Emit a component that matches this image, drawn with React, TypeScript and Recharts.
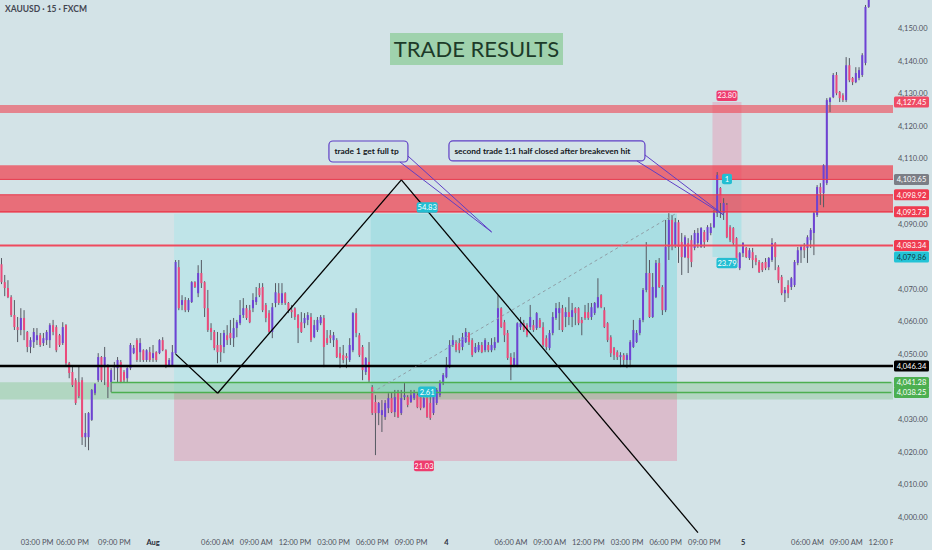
import React from 'react'
import {
  ComposedChart,
  Bar,
  XAxis,
  YAxis,
  ReferenceArea,
  ReferenceLine,
  ReferenceDot,
} from 'recharts'

type Ohlc = [number, number, number, number]

// XAUUSD 15m candles as [open, high, low, close]
const jul31: Ohlc[] = [
  [4077.6, 4079.5, 4071.5, 4072.1], [4072.1, 4074.3, 4067.8, 4070.3], [4070.3, 4072.7, 4067.2, 4067.5],
  [4067.5, 4068.1, 4061.4, 4062.0], [4062.0, 4066.6, 4057.4, 4058.3], [4058.3, 4061.4, 4053.7, 4057.4],
  [4057.4, 4064.1, 4055.8, 4061.1], [4061.1, 4063.5, 4054.3, 4057.4], [4056.8, 4057.1, 4050.6, 4052.2],
  [4052.2, 4055.2, 4050.3, 4054.3], [4053.7, 4058.0, 4051.9, 4056.8], [4054.3, 4058.0, 4052.8, 4055.8],
  [4055.8, 4056.5, 4052.2, 4052.8], [4053.4, 4056.5, 4052.5, 4054.9], [4054.3, 4057.4, 4052.8, 4056.8],
  [4054.3, 4059.5, 4051.9, 4058.9], [4058.9, 4060.5, 4055.8, 4056.8], [4058.3, 4058.9, 4050.6, 4051.2],
  [4055.8, 4056.2, 4052.2, 4052.8], [4053.4, 4059.8, 4052.8, 4058.3], [4058.9, 4059.2, 4046.6, 4047.2],
  [4047.2, 4047.6, 4042.6, 4044.2], [4044.5, 4046.6, 4039.9, 4040.5], [4042.0, 4042.6, 4034.4, 4035.0],
  [4041.4, 4046.6, 4036.5, 4037.1], [4042.0, 4042.9, 4022.1, 4024.5], [4024.5, 4031.9, 4021.5, 4025.8],
  [4024.5, 4032.2, 4020.5, 4031.9], [4029.8, 4039.3, 4029.5, 4039.0], [4038.0, 4041.1, 4037.4, 4040.8],
  [4042.0, 4050.3, 4041.4, 4049.1], [4049.1, 4049.4, 4041.4, 4042.0], [4046.0, 4052.2, 4040.5, 4049.1],
  [4046.6, 4046.9, 4036.5, 4039.9], [4041.4, 4045.7, 4038.3, 4045.1], [4046.0, 4047.6, 4042.0, 4046.6],
  [4045.7, 4049.1, 4041.4, 4048.2], [4047.6, 4048.2, 4041.1, 4041.4], [4044.5, 4045.1, 4041.4, 4042.0],
  [4042.6, 4046.0, 4041.4, 4045.7], [4045.7, 4053.4, 4045.1, 4052.8], [4050.3, 4052.8, 4050.0, 4051.9],
  [4054.3, 4054.9, 4047.6, 4048.2], [4050.6, 4054.9, 4047.6, 4053.4], [4051.2, 4051.5, 4047.6, 4048.2],
  [4048.2, 4051.5, 4047.6, 4051.2], [4050.6, 4052.2, 4047.6, 4048.2],
]

const aug1: Ohlc[] = [
  [4048.8, 4052.8, 4047.6, 4050.3], [4050.6, 4050.9, 4047.6, 4048.2], [4050.3, 4054.6, 4050.0, 4054.3],
  [4054.3, 4055.2, 4050.9, 4051.2], [4051.2, 4051.5, 4045.7, 4046.6], [4046.6, 4048.8, 4046.3, 4048.2],
  [4046.6, 4052.8, 4046.3, 4050.6], [4050.3, 4078.9, 4050.0, 4078.3], [4076.7, 4078.9, 4063.5, 4064.1],
  [4065.1, 4068.1, 4063.5, 4066.6], [4066.6, 4067.5, 4062.9, 4063.5], [4063.5, 4067.2, 4062.9, 4066.6],
  [4066.0, 4072.4, 4065.7, 4072.1], [4072.1, 4072.4, 4070.3, 4070.6], [4068.7, 4077.3, 4067.5, 4074.9],
  [4074.9, 4078.9, 4070.3, 4071.8], [4072.1, 4072.4, 4061.4, 4064.1], [4064.1, 4069.7, 4056.8, 4057.4],
  [4058.0, 4059.5, 4054.3, 4056.8], [4056.8, 4057.4, 4051.2, 4051.9], [4052.8, 4056.8, 4047.2, 4050.6],
  [4052.8, 4056.5, 4047.6, 4050.6], [4052.2, 4057.4, 4050.3, 4056.5], [4055.8, 4058.9, 4052.8, 4054.3],
  [4056.5, 4060.5, 4052.8, 4054.9], [4054.9, 4061.1, 4052.2, 4058.0], [4058.0, 4060.5, 4055.2, 4059.8],
  [4059.5, 4066.6, 4058.9, 4062.0], [4062.0, 4067.2, 4061.1, 4064.1], [4064.1, 4065.1, 4060.5, 4061.1],
  [4063.5, 4065.1, 4059.5, 4059.8], [4064.1, 4068.7, 4062.9, 4066.6], [4066.0, 4070.6, 4065.1, 4067.5],
  [4070.3, 4071.8, 4067.5, 4068.1], [4070.6, 4071.8, 4062.9, 4063.5], [4065.1, 4065.7, 4059.8, 4061.1],
  [4062.6, 4063.5, 4056.5, 4056.8], [4056.8, 4065.7, 4054.9, 4064.4], [4065.7, 4071.8, 4064.4, 4069.0],
  [4068.7, 4071.8, 4065.1, 4065.7], [4065.7, 4071.8, 4065.1, 4068.7], [4068.7, 4069.0, 4065.1, 4065.7],
  [4065.7, 4066.0, 4062.6, 4063.5], [4063.5, 4065.1, 4061.1, 4062.9], [4064.1, 4064.4, 4060.5, 4061.4],
  [4062.0, 4062.3, 4053.4, 4058.0], [4059.8, 4062.9, 4056.5, 4056.8], [4059.5, 4062.6, 4058.0, 4061.1],
  [4060.5, 4062.9, 4058.9, 4062.0], [4061.4, 4062.6, 4053.7, 4054.3], [4055.2, 4060.5, 4054.9, 4058.9],
  [4057.4, 4061.4, 4056.8, 4060.5], [4059.5, 4062.0, 4058.9, 4061.4], [4061.1, 4062.0, 4046.0, 4052.2],
  [4054.9, 4057.4, 4052.8, 4053.4], [4055.8, 4057.4, 4053.4, 4054.9], [4054.3, 4056.8, 4052.2, 4055.8],
  [4054.3, 4054.9, 4048.8, 4049.1], [4050.3, 4052.2, 4045.7, 4048.8], [4049.7, 4052.8, 4047.2, 4048.2],
  [4049.4, 4050.3, 4045.7, 4048.8], [4048.2, 4054.9, 4047.6, 4052.8], [4051.2, 4062.9, 4050.6, 4062.6],
  [4062.6, 4064.1, 4055.2, 4056.5], [4055.8, 4056.5, 4049.1, 4049.7], [4052.2, 4052.8, 4042.0, 4045.1],
  [4044.5, 4049.1, 4043.6, 4048.8], [4047.6, 4053.7, 4041.4, 4042.0], [4039.9, 4040.5, 4031.3, 4031.9],
  [4035.3, 4037.4, 4019.0, 4031.9], [4031.9, 4035.3, 4028.2, 4035.0], [4031.3, 4035.9, 4026.1, 4032.8],
  [4030.7, 4035.9, 4029.8, 4035.0], [4033.4, 4038.0, 4031.9, 4036.5], [4036.5, 4038.3, 4031.9, 4032.2],
  [4032.2, 4039.0, 4030.7, 4036.8], [4038.3, 4039.0, 4030.4, 4030.7], [4031.9, 4039.0, 4031.3, 4036.5],
  [4036.8, 4041.1, 4035.9, 4037.4], [4036.8, 4037.4, 4033.7, 4034.4], [4035.3, 4039.0, 4035.0, 4037.4],
  [4036.5, 4039.0, 4035.9, 4038.3], [4037.4, 4038.0, 4033.4, 4033.7], [4036.8, 4037.4, 4032.8, 4033.4],
  [4033.7, 4036.8, 4033.4, 4036.5], [4036.5, 4036.8, 4030.4, 4030.7], [4035.0, 4037.4, 4029.8, 4030.4],
  [4031.9, 4039.9, 4031.3, 4039.6], [4035.0, 4039.6, 4034.4, 4039.0], [4037.4, 4042.0, 4036.8, 4041.4],
  [4041.1, 4044.2, 4040.5, 4043.6],
]

const aug4: Ohlc[] = [
  [4042.9, 4049.1, 4042.6, 4046.0], [4046.0, 4054.3, 4045.7, 4052.8], [4052.8, 4055.8, 4052.2, 4054.3],
  [4053.7, 4054.3, 4050.6, 4051.2], [4053.4, 4054.9, 4050.3, 4051.2], [4052.2, 4056.5, 4051.2, 4055.2],
  [4053.7, 4058.0, 4053.4, 4056.8], [4056.5, 4056.8, 4052.8, 4053.7], [4054.3, 4054.9, 4049.1, 4049.7],
  [4050.6, 4053.4, 4050.3, 4052.2], [4051.2, 4053.7, 4050.6, 4052.8], [4052.8, 4053.7, 4050.3, 4050.6],
  [4051.2, 4054.9, 4050.6, 4054.3], [4052.8, 4053.7, 4050.6, 4051.2], [4051.2, 4054.9, 4050.6, 4052.8],
  [4051.9, 4055.2, 4051.2, 4053.7], [4053.7, 4068.1, 4053.4, 4064.1], [4064.1, 4064.4, 4058.0, 4058.3],
  [4059.8, 4060.5, 4053.7, 4055.8], [4056.5, 4057.4, 4048.2, 4048.8], [4049.1, 4050.3, 4042.0, 4046.0],
  [4046.6, 4050.6, 4046.0, 4048.8], [4046.6, 4059.8, 4046.0, 4059.5], [4058.3, 4061.4, 4057.4, 4059.5],
  [4059.5, 4060.5, 4056.8, 4057.4], [4058.9, 4059.5, 4055.2, 4055.8], [4058.3, 4065.1, 4057.4, 4061.4],
  [4058.9, 4060.5, 4056.8, 4057.4], [4058.0, 4062.9, 4057.4, 4062.6], [4060.5, 4061.1, 4058.0, 4058.3],
  [4058.3, 4059.8, 4052.2, 4052.8], [4054.9, 4055.8, 4051.2, 4052.2], [4051.9, 4057.4, 4051.2, 4056.5],
  [4056.5, 4062.9, 4055.8, 4061.4], [4061.1, 4065.7, 4060.5, 4064.1], [4062.6, 4066.0, 4057.4, 4064.1],
  [4064.1, 4065.1, 4056.8, 4057.4], [4061.4, 4064.4, 4058.3, 4062.9], [4062.9, 4067.5, 4058.9, 4061.4],
  [4061.4, 4065.7, 4058.3, 4063.5], [4064.1, 4064.4, 4058.9, 4062.6], [4064.1, 4064.4, 4058.9, 4059.5],
  [4060.5, 4061.4, 4055.8, 4059.5], [4062.9, 4065.1, 4060.5, 4061.1], [4062.9, 4065.7, 4060.5, 4061.1],
  [4061.4, 4065.7, 4060.5, 4064.4], [4062.6, 4066.0, 4062.0, 4065.7], [4064.4, 4073.3, 4064.1, 4067.5],
  [4068.1, 4068.4, 4064.1, 4064.4], [4063.5, 4064.4, 4058.0, 4058.3], [4059.5, 4059.8, 4053.7, 4054.3],
  [4055.2, 4055.8, 4049.1, 4050.3], [4051.9, 4052.2, 4048.2, 4049.7], [4050.6, 4051.2, 4048.2, 4049.1],
  [4049.1, 4050.6, 4046.0, 4049.7], [4049.7, 4050.3, 4046.6, 4048.2], [4048.2, 4050.3, 4045.7, 4049.7],
  [4048.2, 4054.3, 4046.0, 4053.7], [4052.2, 4060.5, 4051.9, 4057.4], [4053.7, 4057.4, 4053.4, 4056.5],
  [4056.5, 4061.1, 4055.8, 4060.5], [4060.5, 4070.3, 4059.8, 4069.7], [4069.7, 4084.4, 4069.0, 4074.9],
  [4074.9, 4078.9, 4061.1, 4061.4], [4061.4, 4074.9, 4061.1, 4070.6], [4067.5, 4078.9, 4067.2, 4078.0],
  [4078.0, 4079.5, 4070.3, 4070.6], [4070.6, 4071.2, 4062.0, 4063.5], [4063.5, 4091.2, 4062.9, 4082.9],
  [4082.9, 4093.3, 4078.9, 4091.2], [4091.2, 4092.7, 4081.9, 4083.5], [4083.5, 4091.8, 4082.6, 4090.5],
  [4090.5, 4091.2, 4078.0, 4082.9], [4084.4, 4087.2, 4074.3, 4079.8], [4079.8, 4086.5, 4079.5, 4085.9],
  [4084.1, 4085.6, 4074.9, 4079.5], [4085.0, 4086.5, 4076.7, 4078.3], [4082.6, 4088.1, 4081.9, 4087.2],
  [4084.1, 4088.7, 4082.6, 4087.2], [4082.9, 4089.0, 4082.6, 4088.7], [4087.5, 4088.1, 4082.6, 4084.4],
  [4085.0, 4089.6, 4084.4, 4089.0], [4087.2, 4090.2, 4086.5, 4089.0], [4089.0, 4094.2, 4088.7, 4093.3],
  [4093.3, 4105.9, 4092.1, 4105.0], [4101.0, 4101.3, 4091.8, 4096.4], [4093.3, 4097.9, 4091.2, 4096.4],
  [4095.8, 4096.4, 4085.6, 4085.9], [4089.0, 4089.6, 4084.4, 4085.0], [4088.7, 4089.0, 4083.5, 4084.1],
  [4085.6, 4085.9, 4076.7, 4078.0], [4076.4, 4081.3, 4075.8, 4081.0],
]

const aug5: Ohlc[] = [
  [4081.0, 4084.4, 4079.8, 4084.1], [4082.6, 4082.9, 4079.5, 4079.8], [4079.5, 4082.6, 4078.9, 4081.9],
  [4081.3, 4082.6, 4076.4, 4078.9], [4079.5, 4080.4, 4077.3, 4078.3], [4078.3, 4078.9, 4074.9, 4075.2],
  [4078.0, 4078.3, 4075.2, 4075.8], [4078.3, 4079.5, 4075.8, 4076.4], [4076.7, 4079.8, 4075.8, 4079.5],
  [4078.9, 4085.6, 4078.3, 4084.1], [4084.1, 4084.4, 4075.8, 4079.8], [4076.7, 4077.3, 4071.8, 4072.7],
  [4073.7, 4074.3, 4068.1, 4068.7], [4068.7, 4070.6, 4066.0, 4069.7], [4071.2, 4072.7, 4067.2, 4068.7],
  [4070.6, 4073.7, 4069.7, 4073.3], [4071.2, 4078.9, 4070.6, 4078.3], [4078.0, 4082.9, 4077.3, 4081.9],
  [4081.9, 4083.5, 4078.0, 4082.9], [4082.9, 4084.1, 4079.5, 4081.9], [4082.6, 4086.5, 4078.0, 4085.9],
  [4085.0, 4088.7, 4082.6, 4088.1], [4087.2, 4093.6, 4080.4, 4093.3], [4092.7, 4101.9, 4092.1, 4101.3],
  [4101.3, 4102.5, 4095.8, 4099.4], [4099.4, 4108.3, 4095.1, 4108.0], [4102.5, 4128.6, 4101.9, 4128.0],
  [4127.4, 4128.9, 4124.3, 4128.6], [4128.9, 4136.3, 4128.6, 4135.7], [4135.7, 4136.6, 4129.5, 4130.1],
  [4130.5, 4130.8, 4127.4, 4128.6], [4129.5, 4130.1, 4127.4, 4128.0], [4128.0, 4141.2, 4127.4, 4138.7],
  [4138.7, 4140.9, 4133.5, 4134.1], [4134.8, 4135.1, 4132.6, 4133.5], [4133.5, 4138.1, 4133.2, 4136.3],
  [4134.8, 4138.1, 4134.1, 4137.2], [4135.7, 4142.4, 4135.1, 4141.8], [4139.4, 4157.2, 4138.7, 4156.6],
  [4156.6, 4161.8, 4156.3, 4161.2],
]

// free slots to the right of the last candle
const emptySlots = 7

const timeTickIndex = [11, 22, 35, 47, 67, 79, 91, 103, 115, 127, 138, 158, 170, 182, 194, 206, 218, 230, 250, 262, 274]
const timeTickLabels = [
  '03:00 PM', '06:00 PM', '09:00 PM', 'Aug', '06:00 AM', '09:00 AM', '12:00 PM', '03:00 PM', '06:00 PM',
  '09:00 PM', '4', '06:00 AM', '09:00 AM', '12:00 PM', '03:00 PM', '06:00 PM', '09:00 PM', '5', '06:00 AM',
  '09:00 AM', '12:00 PM',
]

const priceTicks = [4000, 4010, 4020, 4030, 4050, 4060, 4070, 4090, 4110, 4120, 4130, 4140, 4150]
const priceDomain: [number, number] = [3995.08, 4158.73]

// levels drawn on the chart
const upperZone = [4124.0, 4126.5]
const middleZone = [4103.65, 4108.0]
const lowerZone = [4093.4, 4098.92]
const greenZone = [4036.1, 4041.4]
const stopLevel = 4127.45
const shortEntry = 4103.65
const zoneTop = 4098.92
const zoneBottom = 4093.73
const redLevel = 4083.34
const shortTarget = 4079.86
const blackLevel = 4046.34
const greenTop = 4041.28
const greenBottom = 4038.25

// long position tool: entry, stop, target and bar span
const longEntry = 4038.25
const longStop = 4017.22
const longTarget = 4093.08
const longStart = 54
const longFill = 115
const longEnd = 209

// short position tool
const shortStart = 221
const shortEnd = 229

// hand drawn zigzag: [bar, price]
const zigzag: [number, number][] = [[54, 4050.0], [67, 4038.0], [124, 4103.5], [216, 3995.2]]

const candles = [...jul31, ...aug1, ...aug4, ...aug5]
const lastSlot = String(candles.length + emptySlots - 1)

const data = [
  ...candles.map(([open, high, low, close], i) => ({ t: String(i), open, high, low, close })),
  ...Array.from({ length: emptySlots }, (_, k) => ({
    t: String(candles.length + k),
    open: null,
    high: null,
    low: null,
    close: null,
  })),
]

const font = 'Lato, "Open Sans", sans-serif'
const tickLabelByIndex = new Map(timeTickIndex.map((i, k) => [String(i), timeTickLabels[k]]))
const fmtPrice = (v: number) =>
  v.toLocaleString('en-US', { minimumFractionDigits: 2, maximumFractionDigits: 2 })

function Candle(props: any) {
  const { x, y, width, height, payload } = props
  if (!payload || payload.open == null || y == null || isNaN(y)) return null
  const top = Math.min(y, y + height)
  const bottom = Math.max(y, y + height)
  const range = payload.high - payload.low
  const k = range > 0 ? (bottom - top) / range : 0
  const yOf = (v: number) => top + (payload.high - v) * k
  const cx = x + width / 2
  const up = payload.close >= payload.open
  const bTop = yOf(Math.max(payload.open, payload.close))
  const bBot = yOf(Math.min(payload.open, payload.close))
  return (
    <g>
      <line x1={cx} x2={cx} y1={top} y2={bottom} stroke="#555962" strokeWidth={1} />
      <rect
        x={cx - 1}
        y={bTop}
        width={2}
        height={Math.max(1, bBot - bTop)}
        fill={up ? '#6e42d4' : '#ec4a7b'}
      />
    </g>
  )
}

function TimeTick(props: any) {
  const { x, payload } = props
  const label = tickLabelByIndex.get(String(payload.value)) ?? ''
  const strong = label === 'Aug' || /^\d+$/.test(label)
  return (
    <svg x={0} y={533} width={893} height={17} overflow="hidden">
      <text
        x={x}
        y={11.5}
        textAnchor="middle"
        fontSize={7.5}
        fontFamily={font}
        fontWeight={strong ? 700 : 400}
        fill={strong ? '#2a2e39' : '#50535e'}
      >
        {label}
      </text>
    </svg>
  )
}

function PriceTick(props: any) {
  const { y, payload } = props
  return (
    <text x={898} y={y + 2.7} fontSize={7.5} fontFamily={font} fill="#50535e">
      {fmtPrice(payload.value)}
    </text>
  )
}

const priceTag = (value: number, bg: string, fg = '#ffffff') => (p: any) => (
  <g>
    <rect x={p.cx + 2.6} y={p.cy - 5.5} width={35} height={11} rx={1.5} fill={bg} />
    <text x={p.cx + 20.1} y={p.cy + 2.8} textAnchor="middle" fontSize={7.5} fontFamily={font} fill={fg}>
      {fmtPrice(value)}
    </text>
  </g>
)

const badge = (text: string, bg: string, w: number) => (p: any) => (
  <g>
    <rect x={p.cx - w / 2} y={p.cy - 5.3} width={w} height={10.6} rx={2} fill={bg} />
    <text x={p.cx} y={p.cy + 2.8} textAnchor="middle" fontSize={7.5} fontFamily={font} fill="#ffffff">
      {text}
    </text>
  </g>
)

const callout = (text: string, dx: number, dy: number, w: number, h: number) => (p: any) => {
  const x = p.cx + dx
  const y = p.cy + dy
  return (
    <g>
      <rect x={x} y={y} width={w} height={h} rx={4} fill="#d3e3e7" stroke="#5f3fc6" strokeWidth={1.2} />
      <line x1={x + w - 8} y1={y + h} x2={p.cx} y2={p.cy} stroke="#5f3fc6" strokeWidth={1} />
      <line x1={x + w} y1={y + h - 6} x2={p.cx} y2={p.cy} stroke="#5f3fc6" strokeWidth={1} />
      <text x={x + 5.5} y={y + h / 2 + 3} fontSize={8.4} fontWeight={700} fontFamily={font} fill="#131722">
        {text}
      </text>
    </g>
  )
}

export default function App() {
  return (
    <div
      style={{
        position: 'absolute',
        left: 0,
        top: 0,
        width: 932,
        height: 550,
        background: '#d3e3e7',
        overflow: 'hidden',
      }}
    >
      <ComposedChart
        width={932}
        height={550}
        data={data}
        margin={{ top: 0, right: 0, bottom: 0, left: 0 }}
        barCategoryGap={0}
      >
        <XAxis
          dataKey="t"
          type="category"
          ticks={timeTickIndex.map(String)}
          interval={0}
          tick={TimeTick}
          axisLine={false}
          tickLine={false}
          height={17}
        />
        <YAxis
          orientation="right"
          type="number"
          domain={priceDomain}
          allowDataOverflow
          ticks={priceTicks}
          tick={PriceTick}
          axisLine={false}
          tickLine={false}
          width={39}
        />

        {/* long position tool */}
        <ReferenceArea x1={String(longStart)} x2={String(longEnd)} y1={longEntry} y2={longTarget} fill="#bfe4e8" fillOpacity={1} />
        <ReferenceArea x1={String(longFill)} x2={String(longEnd)} y1={longEntry} y2={longTarget} fill="#a9dee3" fillOpacity={1} />
        <ReferenceArea x1={String(longStart)} x2={String(longEnd)} y1={longStop} y2={longEntry} fill="#dabdcc" fillOpacity={1} />

        {/* short position tool */}
        <ReferenceArea x1={String(shortStart)} x2={String(shortEnd)} y1={shortEntry} y2={stopLevel} fill="#dcc0cf" fillOpacity={1} />
        <ReferenceArea x1={String(shortStart)} x2={String(shortEnd)} y1={shortTarget} y2={shortEntry} fill="#b3e1e6" fillOpacity={1} />

        {/* zones */}
        <ReferenceArea y1={upperZone[0]} y2={upperZone[1]} fill="#f23645" fillOpacity={0.55} />
        <ReferenceArea y1={middleZone[0]} y2={middleZone[1]} fill="#f23645" fillOpacity={0.68} />
        <ReferenceArea y1={lowerZone[0]} y2={lowerZone[1]} fill="#f23645" fillOpacity={0.68} />
        <ReferenceArea y1={greenZone[0]} y2={greenZone[1]} fill="#4caf50" fillOpacity={0.25} />

        <Bar
          dataKey={(d: any) => (d.high == null ? null : [d.low, d.high])}
          shape={Candle}
          isAnimationActive={false}
        />

        {/* position labels */}
        <ReferenceDot x="132" y={4095.0} shape={badge('54.83', '#22bed2', 21)} />
        <ReferenceDot x="132" y={4038.4} shape={badge('2.61', '#22bed2', 18)} />
        <ReferenceDot x="131" y={4015.7} shape={badge('21.03', '#ee3c6e', 20)} />
        <ReferenceDot x="225" y={4129.35} shape={badge('23.80', '#ee3c6e', 21)} />
        <ReferenceDot x="225" y={4077.98} shape={badge('23.79', '#22bed2', 21)} />
        <ReferenceDot x="225" y={4103.77} shape={badge('1', '#22bed2', 10)} />

        <ReferenceLine y={shortEntry} stroke="#e8384b" strokeWidth={1} />
        <ReferenceLine y={zoneTop} stroke="#e8384b" strokeWidth={1} />
        <ReferenceLine y={zoneBottom} stroke="#e8384b" strokeWidth={1} />
        <ReferenceLine y={redLevel} stroke="#ef4a5e" strokeWidth={2} />
        <ReferenceLine y={blackLevel} stroke="#000000" strokeWidth={2.5} />
        <ReferenceLine
          segment={[{ x: '34', y: greenTop }, { x: lastSlot, y: greenTop }]}
          stroke="#4caf50"
          strokeWidth={1.5}
        />
        <ReferenceLine
          segment={[{ x: '34', y: greenBottom }, { x: lastSlot, y: greenBottom }]}
          stroke="#4caf50"
          strokeWidth={1.5}
        />

        <ReferenceLine
          segment={[{ x: String(longFill), y: longEntry }, { x: String(longEnd), y: longTarget }]}
          stroke="#8f9ea6"
          strokeDasharray="3 3"
          strokeWidth={1}
        />

        {zigzag.slice(1).map(([i, p], k) => (
          <ReferenceLine
            key={`zz-${k}`}
            segment={[{ x: String(zigzag[k][0]), y: zigzag[k][1] }, { x: String(i), y: p }]}
            stroke="#000000"
            strokeWidth={1.3}
          />
        ))}

        {/* callouts, anchored at the tip of their tails */}
        <ReferenceDot x="152" y={4087.5} shape={callout('trade 1 get full tp', -162.7, -91, 79, 21)} />
        <ReferenceDot
          x="224"
          y={4092.7}
          shape={callout('second trade 1:1 half closed after breakeven hit', -274.8, -74.1, 196, 20)}
        />

        {/* price tags on the scale */}
        <ReferenceDot x={lastSlot} y={stopLevel} shape={priceTag(stopLevel, '#ef4b64')} />
        <ReferenceDot x={lastSlot} y={shortEntry} shape={priceTag(shortEntry, '#7b7e86')} />
        <ReferenceDot x={lastSlot} y={zoneTop} shape={priceTag(zoneTop, '#ef3b50')} />
        <ReferenceDot x={lastSlot} y={zoneBottom} shape={priceTag(zoneBottom, '#ef3b50')} />
        <ReferenceDot x={lastSlot} y={redLevel} shape={priceTag(redLevel, '#ef3b50')} />
        <ReferenceDot x={lastSlot} y={shortTarget} shape={priceTag(shortTarget, '#22c3d6', '#173840')} />
        <ReferenceDot x={lastSlot} y={blackLevel} shape={priceTag(blackLevel, '#000000')} />
        <ReferenceDot x={lastSlot} y={greenTop} shape={priceTag(greenTop, '#4caf50')} />
        <ReferenceDot x={lastSlot} y={greenBottom} shape={priceTag(greenBottom, '#4caf50')} />
      </ComposedChart>

      <div
        style={{
          position: 'absolute',
          left: 5,
          top: 4,
          fontFamily: font,
          fontSize: 8.5,
          fontWeight: 700,
          color: '#434651',
        }}
      >
        XAUUSD · 15 · FXCM
      </div>
      <div
        style={{
          position: 'absolute',
          left: 390,
          top: 33,
          width: 173,
          height: 32,
          lineHeight: '32px',
          background: '#9fd2ad',
          color: '#1d3b29',
          fontFamily: font,
          fontSize: 22,
          textAlign: 'center',
        }}
      >
        TRADE RESULTS
      </div>
    </div>
  )
}
